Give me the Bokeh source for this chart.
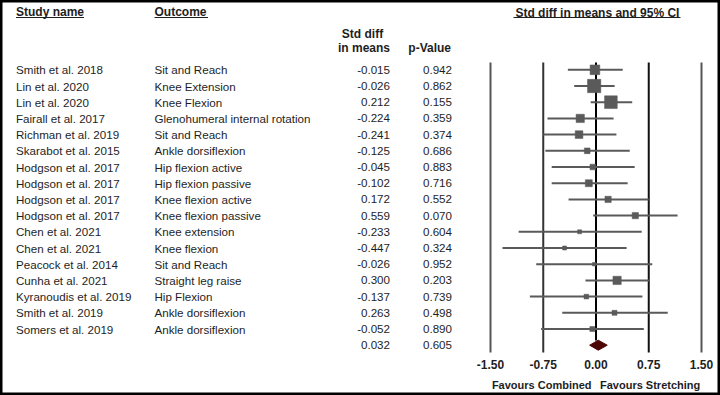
from bokeh.plotting import figure
from bokeh.models import ColumnDataSource, Range1d
from bokeh.core.properties import value
from bokeh.embed import file_html
from bokeh.resources import INLINE

# ---------------- data ----------------
studies = ["Smith et al.  2018", "Lin et al. 2020", "Lin et al. 2020", "Fairall et al. 2017",
           "Richman et al. 2019", "Skarabot et al. 2015", "Hodgson et al. 2017", "Hodgson et al. 2017",
           "Hodgson et al. 2017", "Hodgson et al. 2017", "Chen et al. 2021", "Chen et al. 2021",
           "Peacock et al. 2014", "Cunha et al. 2021", "Kyranoudis et al. 2019", "Smith et al. 2019",
           "Somers et al. 2019"]
outcomes = ["Sit and Reach", "Knee Extension", "Knee Flexion", "Glenohumeral internal rotation",
            "Sit and Reach", "Ankle dorsiflexion", "Hip flexion active", "Hip flexion passive",
            "Knee flexion active", "Knee flexion passive", "Knee extension", "Knee flexion",
            "Sit and Reach", "Straight leg raise", "Hip Flexion", "Ankle dorsiflexion",
            "Ankle dorsiflexion"]
std_diff = [-0.015, -0.026, 0.212, -0.224, -0.241, -0.125, -0.045, -0.102, 0.172, 0.559,
            -0.233, -0.447, -0.026, 0.300, -0.137, 0.263, -0.052]
p_values = ["0.942", "0.862", "0.155", "0.359", "0.374", "0.686", "0.883", "0.716", "0.552",
            "0.070", "0.604", "0.324", "0.952", "0.203", "0.739", "0.498", "0.890"]
ci_lower = [-0.40, -0.31, -0.075, -0.69, -0.75, -0.72, -0.63, -0.63, -0.39, -0.04,
            -1.10, -1.33, -0.85, -0.15, -0.94, -0.48, -0.78]
ci_upper = [0.38, 0.265, 0.515, 0.25, 0.29, 0.48, 0.55, 0.45, 0.75, 1.16,
            0.65, 0.435, 0.80, 0.755, 0.66, 1.02, 0.68]
weights = [9.7, 13.3, 12.7, 8.3, 7.7, 5.7, 5.7, 7.0, 6.3, 6.3, 4.0, 4.0, 3.5, 8.3, 4.7, 5.0, 5.0]

summary_est = 0.032
summary_p = "0.605"
summary_lower = -0.09
summary_upper = 0.16

x_ticks = [-1.50, -0.75, 0.00, 0.75, 1.50]
x_tick_labels = ["-1.50", "-0.75", "0.00", "0.75", "1.50"]

# ---------------- layout helpers ----------------
W, H = 720, 395
PX_PER_UNIT = 70.33
ZERO_PX = 595.5          # page x of value 0
ROW0_PX = 69.3           # page y of first row
ROW_STEP = 16.2


def px2x(px):
    return (px - ZERO_PX) / PX_PER_UNIT


def py2y(py):
    return (py - ROW0_PX) / ROW_STEP


FONT = value("Liberation Sans")
TEXT_COLOR = "#1e1e1e"
GREY = "#5a5a5a"

p = figure(width=W, height=H, output_backend="svg", toolbar_location=None,
           x_range=Range1d(px2x(0), px2x(W)), y_range=Range1d(py2y(H), py2y(0)),
           min_border=0, min_border_left=0, min_border_right=0, min_border_top=0,
           min_border_bottom=0)
p.axis.visible = False
p.grid.visible = False
p.outline_line_color = "black"
p.outline_line_width = 4
p.background_fill_color = "white"
p.border_fill_color = "white"

n = len(studies)
rows = list(range(n))
src = ColumnDataSource(dict(
    y=rows, study=studies, outcome=outcomes,
    sd=["%.3f" % v for v in std_diff], pv=p_values,
    est=std_diff, lo=ci_lower, hi=ci_upper, size=weights,
))

# reference lines
line_colors = {-1.5: "#555555", -0.75: "#333333", 0.0: "#000000", 0.75: "#111111", 1.5: "#555555"}
for t in x_ticks:
    bottom = py2y(340) if t == 0 else py2y(352)
    p.segment(x0=[t], x1=[t], y0=[py2y(62)], y1=[bottom], line_color=line_colors[t], line_width=2)

# confidence intervals and squares
p.segment(x0="lo", x1="hi", y0="y", y1="y", source=src, line_color=GREY, line_width=2)
p.scatter(x="est", y="y", size="size", marker="square", source=src,
          fill_color=GREY, line_color=GREY, line_width=0.5)

# summary diamond
sy = n
half_h = 5 / ROW_STEP
p.patch(x=[summary_lower, summary_est, summary_upper, summary_est],
        y=[sy, sy - half_h, sy, sy + half_h], fill_color="#4c0606", line_color="#4c0606")

# table text
common = dict(text_font=FONT, text_font_size="11.6px", text_color=TEXT_COLOR,
              text_baseline="middle")
p.text(x=px2x(15.5), y="y", text="study", source=src, text_align="left", **common)
p.text(x=px2x(154), y="y", text="outcome", source=src, text_align="left", **common)
p.text(x=px2x(389.5), y="y", text="sd", source=src, text_align="right", **common)
p.text(x=px2x(451.5), y="y", text="pv", source=src, text_align="right", **common)
p.text(x=[px2x(389.5)], y=[sy], text=["%.3f" % summary_est], text_align="right", **common)
p.text(x=[px2x(451.5)], y=[sy], text=[summary_p], text_align="right", **common)

# headers
bold = dict(text_font=FONT, text_font_size="12px", text_color=TEXT_COLOR,
            text_font_style="bold", text_baseline="middle")
p.text(x=[px2x(15.5)], y=[py2y(11.5)], text=["Study name"], text_align="left", **bold)
p.text(x=[px2x(154)], y=[py2y(11.5)], text=["Outcome"], text_align="left", **bold)
p.text(x=[px2x(362)], y=[py2y(33.5)], text=["Std diff"], text_align="center", **bold)
p.text(x=[px2x(389.5)], y=[py2y(47.5)], text=["in means"], text_align="right", **bold)
p.text(x=[px2x(450.5)], y=[py2y(47.5)], text=["p-Value"], text_align="right", **bold)
p.text(x=[0.02], y=[py2y(12)], text=["Std diff in means and 95% CI"], text_align="center", **bold)

# header underlines
p.segment(x0=[px2x(15.5), px2x(154), px2x(513)], x1=[px2x(83.5), px2x(207.5), px2x(680)],
          y0=[py2y(17)] * 3, y1=[py2y(17)] * 3, line_color=TEXT_COLOR, line_width=1)

# x tick labels
p.text(x=x_ticks, y=[py2y(364)] * len(x_ticks), text=x_tick_labels, text_align="center", **bold)

# favours labels
fav = dict(text_font=FONT, text_font_size="11px", text_color=TEXT_COLOR,
           text_font_style="bold", text_baseline="middle")
p.text(x=[px2x(591)], y=[py2y(384)], text=["Favours Combined"], text_align="right", **fav)
p.text(x=[px2x(599.5)], y=[py2y(384)], text=["Favours Stretching"], text_align="left", **fav)

open("out.html", "w").write(file_html(p, INLINE))
